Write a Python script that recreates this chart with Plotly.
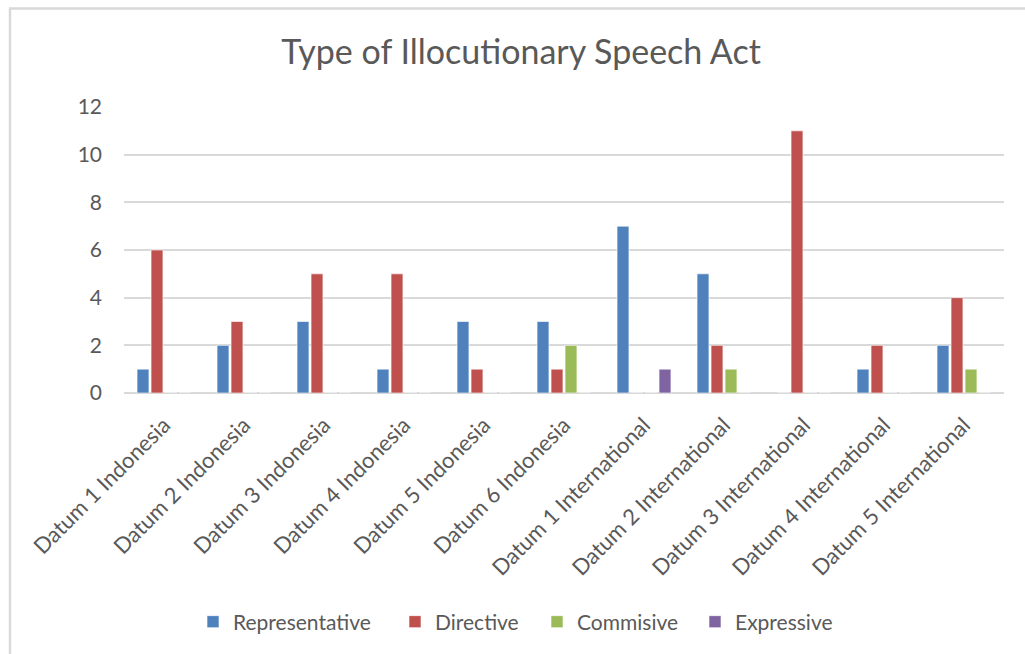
import plotly.graph_objects as go

categories = ["Datum 1 Indonesia", "Datum 2 Indonesia", "Datum 3 Indonesia",
              "Datum 4 Indonesia", "Datum 5 Indonesia", "Datum 6 Indonesia",
              "Datum 1 International", "Datum 2 International", "Datum 3 International",
              "Datum 4 International", "Datum 5 International"]
representative = [1, 2, 3, 1, 3, 3, 7, 5, 0, 1, 2]
directive = [6, 3, 5, 5, 1, 1, 0, 2, 11, 2, 4]
commisive = [0, 0, 0, 0, 0, 2, 0, 1, 0, 0, 1]
expressive = [0, 0, 0, 0, 0, 0, 1, 0, 0, 0, 0]

series_names = ["Representative", "Directive", "Commisive", "Expressive"]
series_values = [representative, directive, commisive, expressive]
series_colors = ["#4F81BD", "#C0504D", "#9BBB59", "#8064A2"]

FONT = "Lato"
GREY = "#595959"

W, H = 1025, 654
L, R, T, B = 124, 21, 107, 261
pw, ph = W - L - R, H - T - B

def px_x(x):
    return (x - L) / pw

def px_y(y):
    return (H - B - y) / ph

# legend entry anchor (pixel x of each entry's box left)
legend_left_px = [193, 395, 537, 695]
legend_ids = ["legend", "legend2", "legend3", "legend4"]

fig = go.Figure()
for name, vals, col, lid in zip(series_names, series_values, series_colors, legend_ids):
    fig.add_trace(go.Bar(x=categories, y=vals, name=name, legend=lid,
                         marker=dict(color=col, line=dict(color="rgba(255,255,255,0.6)", width=1))))

legend_layout = {}
for lid, lx in zip(legend_ids, legend_left_px):
    legend_layout[lid] = dict(orientation="h", x=px_x(lx), xanchor="left", xref="paper",
                              y=px_y(622), yanchor="middle", yref="paper",
                              font=dict(size=21, color=GREY, family=FONT), itemwidth=30,
                              bgcolor="rgba(0,0,0,0)")

fig.update_layout(
    width=W, height=H,
    margin=dict(l=L, r=R, t=T, b=B),
    paper_bgcolor="white", plot_bgcolor="white",
    font=dict(family=FONT, color=GREY, size=21),
    barmode="group", bargap=0.3, bargroupgap=0.15,
    title=dict(text="Type of Illocutionary Speech Act", font=dict(size=34, color=GREY, family=FONT),
               x=521 / W, xanchor="center", xref="container",
               y=1 - 52 / H, yanchor="middle", yref="container"),
    showlegend=True,
    xaxis=dict(tickangle=-45, showgrid=False, showline=False, zeroline=False, automargin=False,
               tickfont=dict(size=22, color=GREY), ticks="", ticklabelstandoff=14),
    yaxis=dict(range=[0, 12], dtick=2, showgrid=True, gridcolor="#D9D9D9", gridwidth=1.5,
               zeroline=True, zerolinecolor="#D9D9D9", zerolinewidth=1.5, automargin=False,
               showline=False, tickfont=dict(size=21, color=GREY), ticklabelstandoff=21),
    shapes=[
        dict(type="line", xref="paper", yref="paper", x0=px_x(9), x1=px_x(1030), y0=px_y(8.5), y1=px_y(8.5),
             line=dict(color="#D9D9D9", width=2.5)),
        dict(type="line", xref="paper", yref="paper", x0=px_x(10), x1=px_x(10), y0=px_y(8.5), y1=px_y(660),
             line=dict(color="#D9D9D9", width=2.5)),
    ],
    **legend_layout,
)

fig.write_html("out.html")
